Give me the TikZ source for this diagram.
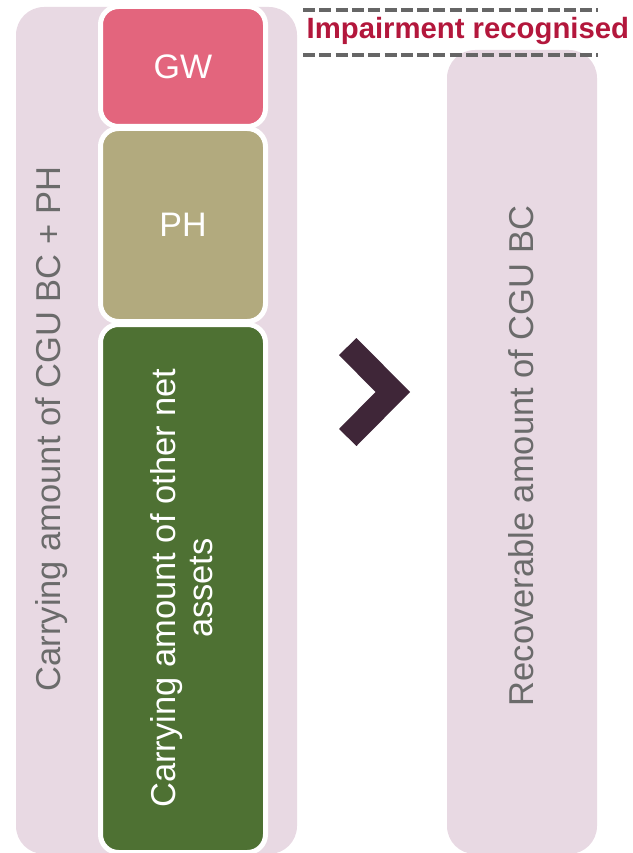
\documentclass[tikz,border=0pt]{standalone}
\usepackage{fontspec}
\setmainfont{Liberation Sans}
\definecolor{bgpink}{HTML}{E8D9E3}
\definecolor{gwred}{HTML}{E3657D}
\definecolor{phtan}{HTML}{B2AA7E}
\definecolor{assetgreen}{HTML}{4E7133}
\definecolor{chev}{HTML}{3F2638}
\definecolor{imprd}{HTML}{B3173C}
\definecolor{txtgray}{HTML}{6B6B6B}
\definecolor{dashgray}{HTML}{666666}
\begin{document}
\begin{tikzpicture}[x=1pt,y=-1pt,
  bigpanel/.style={fill=bgpink,rounded corners=28pt},
  block/.style={draw=white,line width=5pt,rounded corners=18pt,minimum width=165pt,inner sep=0pt,text=white,font=\fontsize{34}{37}\selectfont},
  vlabel/.style={rotate=90,text=txtgray,font=\fontsize{34.5}{37}\selectfont,inner sep=0pt},
  dashline/.style={draw=dashgray,line width=4pt,dash pattern=on 12pt off 4.3pt}]
\useasboundingbox (0,0) rectangle (632,853);
% panels
\fill[bigpanel] (16,7) rectangle (297,854);
\fill[bigpanel] (447,50) rectangle (597,854);
% blocks
\node[block,fill=gwred,minimum height=120pt] (gw) at (183,66.5) {GW};
\node[block,fill=phtan,minimum height=193pt] (ph) at (183,225) {PH};
\node[block,fill=assetgreen,minimum height=528pt] (oa) at (183,588.5) {};
\node[rotate=90,text=white,align=center,font=\fontsize{34.5}{37}\selectfont,inner sep=0pt] (oat) at (181.5,588) {Carrying amount of other net\\assets};
% side labels
\node[vlabel] (lt) at (52,429) {Carrying amount of CGU BC + PH};
\node[vlabel] (rt) at (521,456) {Recoverable amount of CGU BC};
% chevron
\fill[chev] (339,355) -- (356.5,338) -- (410,392) -- (356.5,446) -- (339,429) -- (375.5,392) -- cycle;
% impairment
\coordinate (d1a) at (303,10.5);
\coordinate (d1b) at (598,10.5);
\coordinate (d2a) at (303,55);
\coordinate (d2b) at (598,55);
\draw[dashline] (d1a) -- (d1b);
\draw[dashline] (d2a) -- (d2b);
\node[anchor=base west,inner sep=0pt,text=imprd,font=\fontsize{29.3}{32}\selectfont\bfseries] (imp) at (306.5,39) {Impairment recognised};
\end{tikzpicture}
\end{document}
